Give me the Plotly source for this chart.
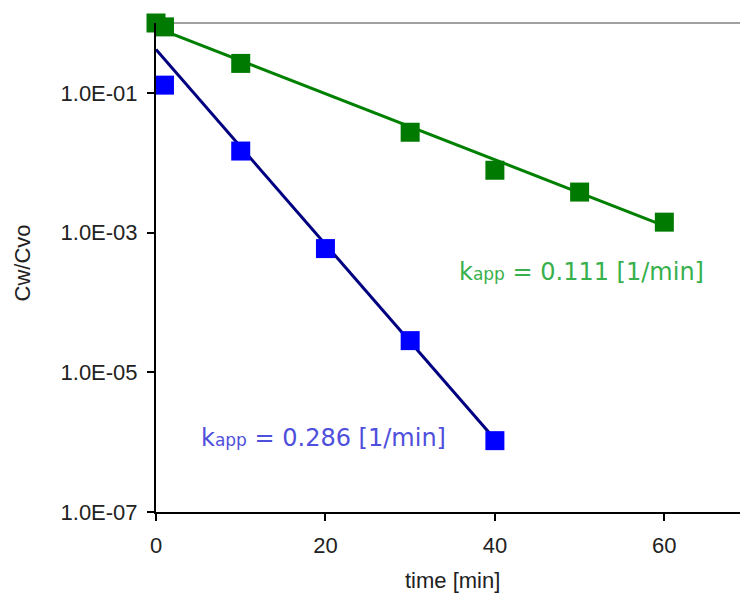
import plotly.graph_objects as go

# Measured data (Cw/Cvo vs time)
green_t = [0, 1, 10, 30, 40, 50, 60]
green_c = [1.0, 0.88, 0.264, 0.0273, 0.0078, 0.0038, 0.00141]
blue_t = [1, 10, 20, 30, 40]
blue_c = [0.129, 0.0147, 5.9e-4, 2.84e-5, 1.05e-6]

# Fit lines (endpoints)
green_fit_t = [0, 60]
green_fit_c = [0.86, 0.00125]
blue_fit_t = [0, 40]
blue_fit_c = [0.418, 1.1e-6]

ytick_vals = [1e-1, 1e-3, 1e-5, 1e-7]
ytick_text = ["1.0E-01", "1.0E-03", "1.0E-05", "1.0E-07"]
xtick_vals = [0, 20, 40, 60]

sub = "<span style='font-size:17px'>app</span>"
label_green = "k" + sub + " = 0.111 [1/min]"
label_blue = "k" + sub + " = 0.286 [1/min]"

fig = go.Figure()
fig.add_trace(go.Scatter(x=green_fit_t, y=green_fit_c, mode="lines",
                         line=dict(color="#008000", width=3), cliponaxis=False,
                         showlegend=False))
fig.add_trace(go.Scatter(x=blue_fit_t, y=blue_fit_c, mode="lines",
                         line=dict(color="#000080", width=3), cliponaxis=False,
                         showlegend=False))
fig.add_trace(go.Scatter(x=green_t, y=green_c, mode="markers",
                         marker=dict(symbol="square", size=19, color="#007A00"),
                         cliponaxis=False, showlegend=False))
fig.add_trace(go.Scatter(x=blue_t, y=blue_c, mode="markers",
                         marker=dict(symbol="square", size=19, color="#0000FF"),
                         cliponaxis=False, showlegend=False))

tickfont = dict(family="Liberation Sans, Arial, sans-serif", size=22, color="#222222")

fig.update_layout(
    width=740, height=594,
    margin=dict(l=155.5, r=0, t=22.9, b=82.3),
    paper_bgcolor="white", plot_bgcolor="white",
    xaxis=dict(range=[0, 68.93], tickvals=xtick_vals, ticks="outside", ticklen=7,
               tickwidth=2, tickcolor="black", showline=True, linecolor="black",
               linewidth=2, showgrid=False, zeroline=False, tickfont=tickfont,
               ticklabelstandoff=6),
    yaxis=dict(type="log", range=[-7, 0], tickvals=ytick_vals, ticktext=ytick_text,
               ticks="outside", ticklen=7, tickwidth=2, tickcolor="black",
               showline=True, linecolor="black", linewidth=2, showgrid=False,
               zeroline=False, tickfont=tickfont, ticklabelstandoff=5),
    shapes=[dict(type="line", xref="paper", yref="paper", x0=0, x1=1, y0=1, y1=1,
                 line=dict(color="#A0A0A0", width=2), layer="below")],
    annotations=[
        dict(text="time [min]", xref="x", yref="paper", x=35, y=0, yshift=-68,
             showarrow=False, font=dict(family="Liberation Sans, Arial", size=22, color="#222222"),
             xanchor="center", yanchor="middle"),
        dict(text="Cw/Cvo", xref="paper", yref="paper", x=0, xshift=-134,
             y=0.5, yshift=4, textangle=-90, showarrow=False,
             font=dict(family="Liberation Sans, Arial", size=22, color="#222222"),
             xanchor="center", yanchor="middle"),
        dict(text=label_green, xref="paper", yref="paper", x=0, xshift=456.7 - 155.5,
             y=1, yshift=-(271.7 - 22.9), showarrow=False, xanchor="left", yanchor="middle",
             font=dict(family="DejaVu Sans", size=24, color="#38B04C")),
        dict(text=label_blue, xref="paper", yref="paper", x=0, xshift=198 - 155.5,
             y=1, yshift=-(438 - 22.9), showarrow=False, xanchor="left", yanchor="middle",
             font=dict(family="DejaVu Sans", size=24, color="#4F4FDD")),
    ],
)

fig.write_html("out.html")
